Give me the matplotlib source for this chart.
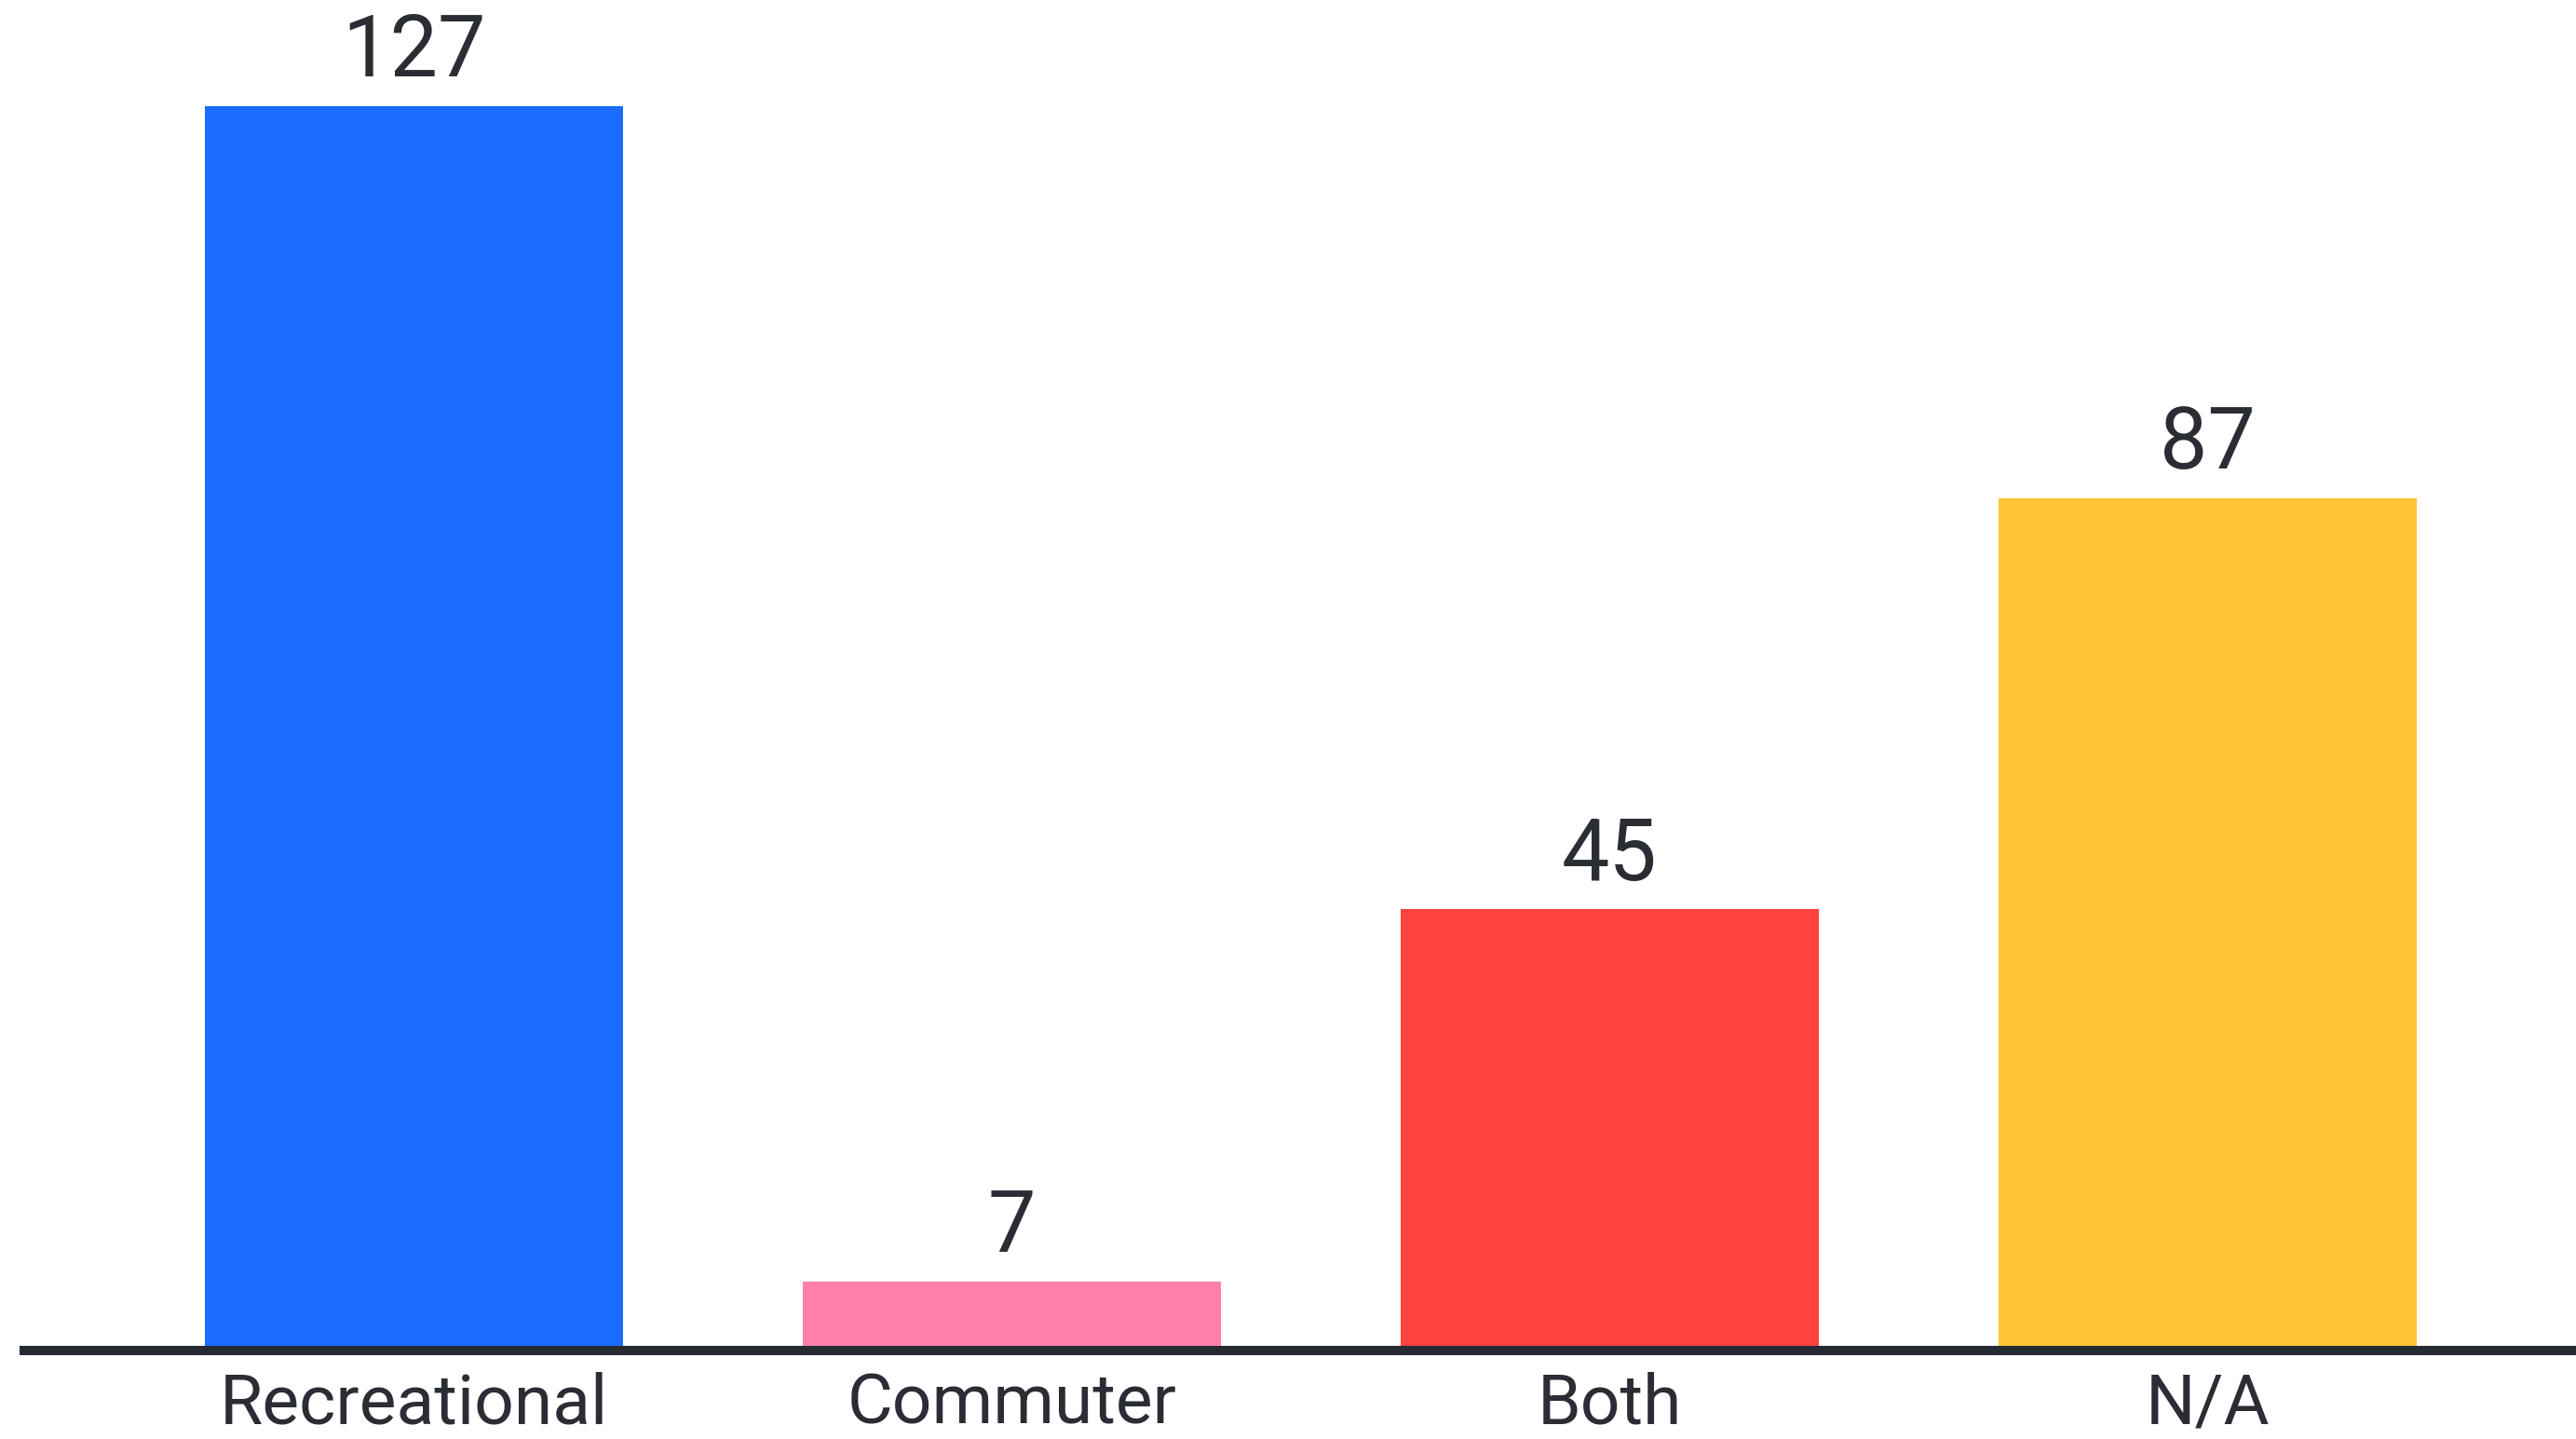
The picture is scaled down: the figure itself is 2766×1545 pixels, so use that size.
import matplotlib.pyplot as plt

# datos del gráfico
categorias = ["Recreational", "Commuter", "Both", "N/A"]
valores = [127, 7, 45, 87]
colores = ["#1c6bff", "#ff80aa", "#ff4240", "#ffc436"]

plt.rcParams['font.family'] = ['Roboto', 'DejaVu Sans']
texto = "#2a2d34"

fig = plt.figure(figsize=(27.66, 15.45), dpi=100)
ax = fig.add_axes([0.0094, 0.0615, 0.9906, 0.9385])

x = range(len(categorias))
barras = ax.bar(x, valores, width=0.70, color=colores)

# etiquetas de valor encima de cada barra
for b, v in zip(barras, valores):
    ax.annotate(str(v), (b.get_x() + b.get_width() / 2, v),
                xytext=(0, 23), textcoords="offset points",
                ha="center", va="baseline", fontsize=66, color=texto)

ax.set_xlim(-0.652, 3.616)
ax.set_ylim(0, 137.8)
ax.set_xticks(list(x))
ax.set_xticklabels(categorias, fontsize=54, color=texto)
ax.tick_params(axis="x", length=0, pad=16)
ax.set_yticks([])

for lado in ["top", "right", "left"]:
    ax.spines[lado].set_visible(False)
ax.spines["bottom"].set_linewidth(7.2)
ax.spines["bottom"].set_color("#262a33")
ax.spines["bottom"].set_zorder(3)

fig.savefig("out.png", dpi=100)
